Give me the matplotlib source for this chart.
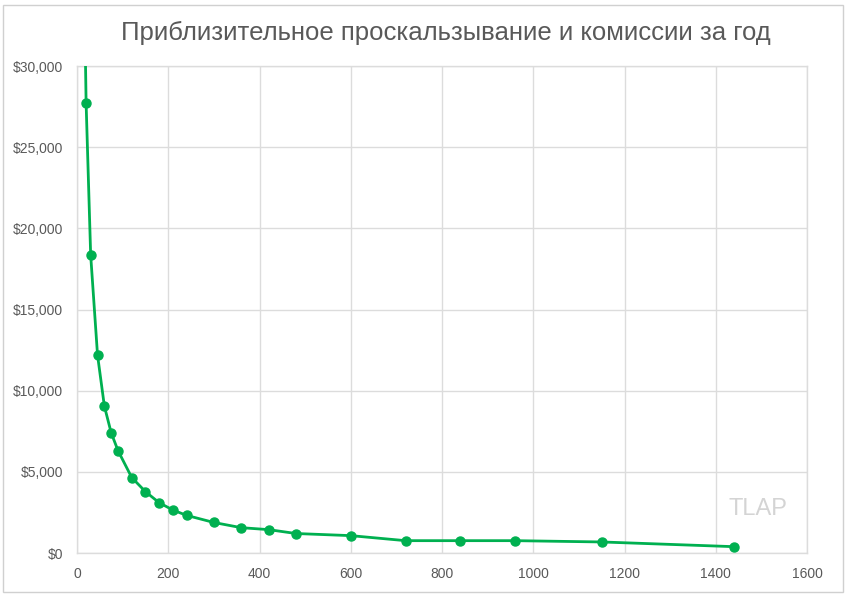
import numpy as np
import matplotlib.pyplot as plt
from matplotlib.ticker import FuncFormatter
from matplotlib.patches import Rectangle

# Данные
trades_per_year = [15, 20, 30, 45, 60, 75, 90, 120, 150, 180, 210, 240,
                   300, 360, 420, 480, 600, 720, 840, 960, 1150, 1440]
cost_usd = [36900, 27700, 18350, 12200, 9050, 7400, 6300, 4650, 3780, 3100,
            2650, 2320, 1880, 1560, 1440, 1200, 1070, 760, 760, 760, 680, 390]

title = "Приблизительное проскальзывание и комиссии за год"
x_ticks = [0, 200, 400, 600, 800, 1000, 1200, 1400, 1600]
y_ticks = [0, 5000, 10000, 15000, 20000, 25000, 30000]

plt.rcParams['font.family'] = ['Liberation Sans', 'DejaVu Sans']

fig = plt.figure(figsize=(8.46, 5.97), dpi=100)
ax = fig.add_axes([0.091, 0.0737, 0.863, 0.8157])

green = "#00B050"
grid_c = "#dcdcdc"
text_c = "#595959"

ax.plot(trades_per_year, cost_usd, color=green, linewidth=2,
        marker="o", markersize=6.5, clip_on=True, zorder=3)

ax.set_xlim(0, 1600)
ax.set_ylim(0, 30000)
ax.set_xticks(x_ticks)
ax.set_yticks(y_ticks)
ax.yaxis.set_major_formatter(FuncFormatter(lambda v, p: f"${v:,.0f}"))

ax.grid(True, color=grid_c, linewidth=1)
ax.set_axisbelow(True)
for s in ax.spines.values():
    s.set_color(grid_c)
    s.set_linewidth(1)
ax.tick_params(length=0, colors=text_c, labelsize=10)
ax.tick_params(axis="y", pad=10)
ax.tick_params(axis="x", pad=10)

fig.text(0.527, 0.945, title, ha="center", va="center",
         fontsize=18.5, color=text_c)

# водяной знак
ax.text(0.933, 0.09, "TLAP", transform=ax.transAxes, ha="center",
        va="center", fontsize=17, color="#d4d4d4")

# рамка вокруг диаграммы
fig.patches.append(Rectangle((0.004, 0.008), 0.992, 0.983,
                             transform=fig.transFigure, fill=False,
                             edgecolor="#d0d0d0", linewidth=1))

plt.savefig("out.png", dpi=100)
plt.close()
